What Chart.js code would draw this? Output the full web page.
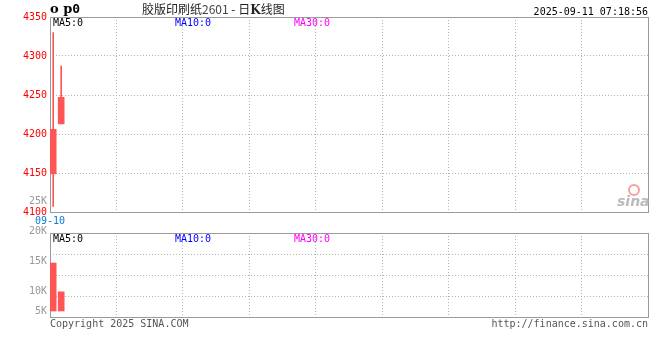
<!DOCTYPE html>
<html>
<head>
<meta charset="utf-8">
<script src="https://cdn.jsdelivr.net/npm/chart.js@4.4.1/dist/chart.umd.min.js"></script>
<style>
  html, body { margin: 0; padding: 0; background: #fff; }
  #wrap { position: relative; width: 660px; height: 360px; overflow: hidden;
          font-family: "DejaVu Sans Mono", monospace; font-size: 10px; }
  canvas { position: absolute; left: 0; }
  .t { position: absolute; white-space: nowrap; line-height: 12px; }
</style>
</head>
<body>
<div id="wrap">
  <canvas id="kline" width="660" height="230" style="top:0"></canvas>
  <canvas id="vol" width="660" height="140" style="top:190px"></canvas>

  <div class="t" style="left:50px;top:2px;font-family:'DejaVu Serif',serif;font-weight:bold;font-size:13px;line-height:14px">o p<span style="font-family:'DejaVu Sans Mono',monospace">0</span></div>
  <div class="t" style="left:142px;top:2px;font-family:'Noto Sans CJK SC',sans-serif;font-size:12px;line-height:14px;color:#222">胶版印刷纸<span style="color:#444">2601</span> - 日<b style="font-family:'DejaVu Serif',serif">K</b>线图</div>
  <div class="t" style="right:12px;top:6px;color:#000">2025-09-11 07:18:56</div>

  <div class="t" style="left:53px;top:17px;color:#000">MA5:0</div>
  <div class="t" style="left:175px;top:17px;color:#0000ff">MA10:0</div>
  <div class="t" style="left:294px;top:17px;color:#ff00ff">MA30:0</div>

  <div class="t" id="dateLbl" style="left:35px;top:215px;color:#0a7ad6"></div>

  <div class="t" style="left:53px;top:233px;color:#000">MA5:0</div>
  <div class="t" style="left:175px;top:233px;color:#0000ff">MA10:0</div>
  <div class="t" style="left:294px;top:233px;color:#ff00ff">MA30:0</div>

  <div class="t" style="left:50px;top:318px;color:#555">Copyright 2025 SINA.COM</div>
  <div class="t" style="right:12px;top:318px;color:#555">http://finance.sina.com.cn</div>

  <!-- sina watermark -->
  <div style="position:absolute;left:628px;top:184px;width:8px;height:8px;border:2px solid #f6a0a0;border-radius:50%"></div>
  <div class="t" style="left:617px;top:194px;font-family:'DejaVu Sans',sans-serif;font-style:italic;font-weight:bold;font-size:14px;line-height:14px;color:#bbb">sina</div>
</div>

<script>
// daily K data (2 trading days so far)
const dates = ["09-10", "09-11"];
const open  = [4149, 4213];
const close = [4206, 4247];
const high  = [4330, 4287];
const low   = [4107, 4213];
const volume = [14700, 9900];

const priceTicks = [4100, 4150, 4200, 4250, 4300, 4350];
const volTicks = [5000, 10000, 15000, 20000, 25000];

const SLOTS = 75;          // candles the panel has room for
const UP = "#ff5555";
const GRID = "#b4b4b4";
const MONO = "'DejaVu Sans Mono', monospace";

document.getElementById("dateLbl").textContent = dates[0];

// 9 equal vertical divisions, like the sina panel
function nineCols(scale) {
  const n = 9;
  scale.ticks = Array.from({ length: n + 1 }, (_, k) => ({ value: scale.min + k * (scale.max - scale.min) / n }));
}

const frame = {
  id: "frame",
  beforeDatasetsDraw(chart) {
    const a = chart.chartArea, ctx = chart.ctx;
    ctx.save();
    ctx.strokeStyle = "#9a9a9a";
    ctx.lineWidth = 1;
    ctx.strokeRect(a.left + 0.5, a.top + 0.5, a.right - a.left, a.bottom - a.top);
    ctx.restore();
  },
};

const xScale = () => ({
  type: "linear",
  offset: false,
  min: -0.4,
  max: SLOTS - 0.4,
  afterBuildTicks: nineCols,
  afterFit: (s) => { s.height = 0; },
  ticks: { display: false },
  grid: { color: GRID, drawTicks: false, offset: false },
  border: { display: false, dash: [1, 2] },
});

const idx = dates.map((_, i) => i);

new Chart(document.getElementById("kline"), {
  type: "bar",
  data: {
    datasets: [
      {
        label: "wick",
        data: idx.map((i) => ({ x: i, y: [low[i], high[i]] })),
        backgroundColor: UP,
        barThickness: 1,
      },
      {
        label: "body",
        data: idx.map((i) => ({ x: i, y: [open[i], close[i]] })),
        backgroundColor: UP,
        barThickness: 6,
      },
    ],
  },
  options: {
    responsive: false,
    devicePixelRatio: 1,
    animation: false,
    grouped: false,
    layout: { padding: { top: 17, right: 12, bottom: 18, left: 0 } },
    plugins: { legend: { display: false }, tooltip: { enabled: false } },
    scales: {
      x: xScale(),
      y: {
        min: priceTicks[0],
        max: priceTicks[priceTicks.length - 1],
        afterBuildTicks: (s) => { s.ticks = priceTicks.map((v) => ({ value: v })); },
        afterFit: (s) => { s.width = 50; },
        ticks: { color: "#ff0000", padding: 3, font: { family: MONO, size: 10 }, callback: (v) => String(v) },
        grid: { color: GRID, drawTicks: false },
        border: { display: false, dash: [1, 2] },
      },
    },
  },
  plugins: [frame],
});

const volLabels = {
  id: "volLabels",
  afterDraw(chart) {
    const y = chart.scales.y, a = chart.chartArea, ctx = chart.ctx;
    ctx.save();
    ctx.fillStyle = "#999";
    ctx.font = "10px " + MONO;
    ctx.textAlign = "right";
    ctx.textBaseline = "middle";
    for (const v of volTicks) {
      const py = Math.min(y.getPixelForValue(v), a.bottom - 6);
      ctx.fillText(v / 1000 + "K", 47, py);
    }
    ctx.restore();
  },
};

new Chart(document.getElementById("vol"), {
  type: "bar",
  data: {
    datasets: [{
      label: "volume",
      data: idx.map((i) => ({ x: i, y: volume[i] })),
      backgroundColor: UP,
      barThickness: 6,
      base: 6700,
    }],
  },
  options: {
    responsive: false,
    devicePixelRatio: 1,
    animation: false,
    layout: { padding: { top: 43, right: 12, bottom: 13, left: 0 } },
    plugins: { legend: { display: false }, tooltip: { enabled: false } },
    scales: {
      x: xScale(),
      y: {
        min: 5700,
        max: 19700,
        afterBuildTicks: (s) => {
          s.ticks = Array.from({ length: 5 }, (_, k) => ({ value: s.min + k * (s.max - s.min) / 4 }));
        },
        afterFit: (s) => { s.width = 50; },
        ticks: { display: false },
        grid: { color: GRID, drawTicks: false },
        border: { display: false, dash: [1, 2] },
      },
    },
  },
  plugins: [frame, volLabels],
});
</script>
</body>
</html>
